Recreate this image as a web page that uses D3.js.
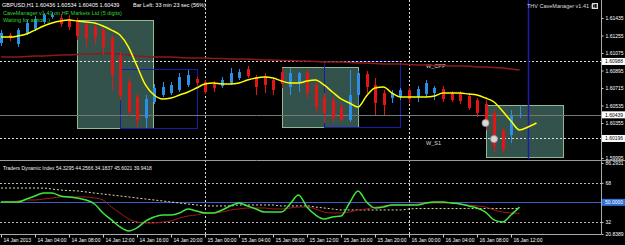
<!DOCTYPE html>
<html>
<head>
<meta charset="utf-8">
<script src="https://cdn.jsdelivr.net/npm/d3@7/dist/d3.min.js"></script>
<style>
  html, body { margin: 0; padding: 0; background: #000; }
  svg { display: block; font-family: 'Liberation Sans', Arial, sans-serif; }
</style>
</head>
<body>
<svg id="chart" width="625" height="245"></svg>
<script>
// GBPUSD H1, 14 Jan 2013 00:00 .. 16 Jan 2013 13:00 (62 bars)
const timeLabels = [
  '14 Jan 2013', '14 Jan 04:00', '14 Jan 08:00', '14 Jan 12:00', '14 Jan 16:00', '14 Jan 20:00',
  '15 Jan 00:00', '15 Jan 04:00', '15 Jan 08:00', '15 Jan 12:00', '15 Jan 16:00', '15 Jan 20:00',
  '16 Jan 00:00', '16 Jan 04:00', '16 Jan 08:00', '16 Jan 12:00',
]

const opens = [
  1.61178, 1.61260, 1.61167, 1.61281, 1.61322, 1.61394, 1.61445, 1.61435, 1.61425, 1.61404,
  1.61373, 1.61342, 1.61311, 1.61229, 1.61044, 1.60777, 1.60622, 1.60406, 1.60571, 1.60643,
  1.60663, 1.60694, 1.60746, 1.60807, 1.60777, 1.60756, 1.60735, 1.60766, 1.60818, 1.60910,
  1.60828, 1.60838, 1.60797, 1.60879, 1.60725, 1.60766, 1.60879, 1.60746, 1.60622, 1.60591,
  1.60519, 1.60386, 1.60643, 1.60859, 1.60746, 1.60663, 1.60612, 1.60622, 1.60694, 1.60622,
  1.60653, 1.60663, 1.60705, 1.60663, 1.60663, 1.60633, 1.60591, 1.60550, 1.60458, 1.60283,
  1.60231, 1.60436,
]
const highs = [
  1.61311, 1.61281, 1.61332, 1.61414, 1.61455, 1.61486, 1.61497, 1.61476, 1.61466, 1.61435,
  1.61394, 1.61373, 1.61332, 1.61260, 1.61085, 1.60818, 1.60663, 1.60643, 1.60756, 1.60777,
  1.60777, 1.60869, 1.60900, 1.60828, 1.60797, 1.60787, 1.60828, 1.60921, 1.60910, 1.60941,
  1.60849, 1.60869, 1.60818, 1.60921, 1.60921, 1.60879, 1.60900, 1.60777, 1.60663, 1.60622,
  1.60561, 1.60900, 1.60890, 1.60890, 1.60818, 1.60694, 1.60694, 1.60715, 1.60715, 1.60735,
  1.60797, 1.60735, 1.60735, 1.60684, 1.60684, 1.60663, 1.60612, 1.60591, 1.60489, 1.60303,
  1.60489, 1.60534,
]
const lows = [
  1.61147, 1.61198, 1.61136, 1.61260, 1.61301, 1.61373, 1.61425, 1.61342, 1.61311, 1.61209,
  1.61136, 1.61157, 1.61054, 1.60694, 1.60591, 1.60427, 1.60314, 1.60303, 1.60550, 1.60622,
  1.60643, 1.60674, 1.60725, 1.60746, 1.60653, 1.60674, 1.60715, 1.60746, 1.60797, 1.60818,
  1.60643, 1.60663, 1.60643, 1.60715, 1.60643, 1.60674, 1.60612, 1.60458, 1.60355, 1.60355,
  1.60365, 1.60365, 1.60519, 1.60663, 1.60437, 1.60437, 1.60561, 1.60591, 1.60561, 1.60571,
  1.60622, 1.60591, 1.60571, 1.60571, 1.60550, 1.60489, 1.60417, 1.60283, 1.60057, 1.60046,
  1.60149, 1.60405,
]
const closes = [
  1.61281, 1.61229, 1.61311, 1.61383, 1.61425, 1.61466, 1.61466, 1.61373, 1.61342, 1.61250,
  1.61229, 1.61239, 1.61136, 1.60849, 1.60633, 1.60468, 1.60386, 1.60602, 1.60715, 1.60725,
  1.60746, 1.60828, 1.60849, 1.60766, 1.60674, 1.60715, 1.60797, 1.60869, 1.60879, 1.60838,
  1.60725, 1.60746, 1.60694, 1.60756, 1.60869, 1.60869, 1.60663, 1.60519, 1.60458, 1.60406,
  1.60386, 1.60643, 1.60869, 1.60725, 1.60561, 1.60540, 1.60663, 1.60694, 1.60602, 1.60705,
  1.60766, 1.60715, 1.60602, 1.60591, 1.60581, 1.60509, 1.60458, 1.60334, 1.60118, 1.60077,
  1.60427, 1.60439,
]

// CaveManager centred band (runs two bars past the last candle)
const tmaLine = [
  1.61239, 1.61239, 1.61250, 1.61270, 1.61311, 1.61353, 1.61383, 1.61404, 1.61414, 1.61404,
  1.61394, 1.61383, 1.61353, 1.61311, 1.61260, 1.61136, 1.60941, 1.60746, 1.60643, 1.60602,
  1.60612, 1.60643, 1.60674, 1.60715, 1.60756, 1.60766, 1.60756, 1.60756, 1.60766, 1.60797,
  1.60818, 1.60828, 1.60818, 1.60787, 1.60766, 1.60766, 1.60787, 1.60797, 1.60746, 1.60674,
  1.60602, 1.60561, 1.60519, 1.60633, 1.60715, 1.60725, 1.60663, 1.60622, 1.60622, 1.60622,
  1.60622, 1.60633, 1.60663, 1.60663, 1.60663, 1.60653, 1.60643, 1.60612, 1.60571, 1.60478,
  1.60375, 1.60283, 1.60314, 1.60355,
]
// slow moving average (dark red)
const maLine = [
  1.61034, 1.61034, 1.61034, 1.61039, 1.61044, 1.61044, 1.61049, 1.61054, 1.61054, 1.61059,
  1.61065, 1.61065, 1.61070, 1.61070, 1.61065, 1.61054, 1.61044, 1.61039, 1.61034, 1.61034,
  1.61034, 1.61029, 1.61023, 1.61023, 1.61023, 1.61018, 1.61018, 1.61013, 1.61013, 1.61013,
  1.61008, 1.61003, 1.61003, 1.60998, 1.60998, 1.60993, 1.60993, 1.60987, 1.60982, 1.60982,
  1.60982, 1.60977, 1.60972, 1.60972, 1.60967, 1.60962, 1.60962, 1.60962, 1.60957, 1.60951,
  1.60951, 1.60946, 1.60946, 1.60941, 1.60941, 1.60941, 1.60931, 1.60931, 1.60926, 1.60921,
  1.60910, 1.60900,
]

// Traders Dynamic Index
const rsiLine = [
  50.3, 50.3, 50.3, 53.1, 55.9, 58.6, 58.6, 55.9, 55.0, 54.0,
  52.2, 48.5, 40.2, 33.8, 27.3, 23.6, 26.4, 32.8, 36.5, 38.4,
  38.4, 40.2, 43.9, 42.0, 40.2, 40.2, 43.0, 46.7, 49.4, 46.7,
  43.9, 41.1, 41.1, 41.1, 48.5, 56.8, 45.7, 38.4, 34.7, 36.5,
  37.4, 49.4, 60.5, 50.3, 44.8, 45.7, 47.6, 47.6, 47.6, 47.6,
  49.4, 50.3, 50.3, 49.4, 48.5, 46.7, 44.8, 41.1, 33.8, 31.9,
  38.4, 45.6,
]
const signalLine = [
  50.3, 50.3, 51.3, 52.2, 52.2, 53.1, 54.0, 55.0, 55.0, 55.0,
  55.0, 54.0, 52.2, 45.7, 40.2, 34.7, 31.9, 31.0, 31.0, 31.9,
  32.8, 35.6, 37.4, 38.4, 40.2, 40.2, 41.1, 43.0, 43.9, 44.8,
  44.8, 44.8, 43.9, 43.9, 44.8, 45.7, 45.7, 43.9, 41.1, 40.2,
  40.2, 41.1, 43.0, 43.9, 45.7, 46.7, 47.6, 47.6, 47.6, 48.5,
  49.4, 49.4, 49.4, 49.4, 48.5, 47.6, 46.7, 45.7, 43.0, 41.1,
  40.2, 39.9,
]
const baseLine = [
  63.2, 63.2, 63.2, 63.2, 63.2, 63.2, 62.3, 61.4, 60.9, 60.5,
  59.6, 58.6, 57.7, 56.8, 55.9, 55.0, 54.0, 53.1, 52.2, 51.3,
  50.3, 49.4, 48.5, 47.6, 46.7, 46.7, 46.7, 46.7, 47.6, 47.6,
  47.6, 47.6, 47.6, 46.7, 46.7, 46.7, 46.7, 45.7, 44.8, 43.9,
  43.0, 43.0, 43.0, 43.0, 43.0, 43.0, 43.0, 43.0, 43.9, 44.3,
  44.3, 44.3, 44.3, 44.3, 44.3, 44.3, 44.3, 44.3, 44.3, 44.3,
  44.3, 44.3,
]
const tdiLevels = [68, 32]
const tdiMid = 50

// [first bar, last bar, top price, bottom price]
const filledBoxes = [
  [9, 18, 1.61414, 1.60303],
  [33, 42, 1.60931, 1.60314],
  [57, 66, 1.60540, 1.60005],
]
const outlineBoxes = [
  [14, 23, 1.60910, 1.60303],
  [38, 47, 1.60993, 1.60314],
]
const pivots = [['W_CPP', 1.60988], ['W_S1', 1.60196]]
const signals = [[57, 1.60355], [58, 1.60190]]
const bid = 1.60439
const markerBar = 62
const daySeparators = [24, 48]

const priceTicks = [1.61435, 1.61255, 1.61075, 1.60895, 1.60715, 1.60535, 1.60355, 1.59995]
const markedPrices = [1.60988, 1.60439, 1.60196]
const tdiTicks = [86.2931, 68, 32, 20.8389]
const tdiTickLabels = ['86.2931', '68', '32', '20.8389']

const plotRight = 601
const mainBottom = 159
const tdiBottom = 234

const x = d3.scaleLinear().domain([0, 70]).range([1, 596])
const y = d3.scaleLinear().domain([1.59995, 1.61435]).range([158, 18])
const yTdi = d3.scaleLinear().domain([20.8389, 86.2931]).range([tdiBottom, 163])
const px = i => Math.round(x(i)) + 0.5

const svg = d3.select('#chart')
svg.append('rect').attr('width', 625).attr('height', 245).attr('fill', '#000')

// zones
svg.append('g').selectAll('rect')
  .data(filledBoxes)
  .enter().append('rect')
  .attr('x', d => px(d[0]))
  .attr('y', d => Math.round(y(d[2])) + 0.5)
  .attr('width', d => Math.round(x(d[1]) - x(d[0])))
  .attr('height', d => Math.round(y(d[3]) - y(d[2])))
  .attr('fill', '#33524c')
  .attr('stroke', '#8fbc8f')

svg.append('g').selectAll('rect')
  .data(outlineBoxes)
  .enter().append('rect')
  .attr('x', d => px(d[0]))
  .attr('y', d => Math.round(y(d[2])) + 0.5)
  .attr('width', d => Math.round(x(d[1]) - x(d[0])))
  .attr('height', d => Math.round(y(d[3]) - y(d[2])))
  .attr('fill', 'none')
  .attr('stroke', '#1a1aa8')

// separators and levels
svg.append('g').selectAll('line')
  .data(daySeparators)
  .enter().append('line')
  .attr('x1', px).attr('x2', px)
  .attr('y1', 0).attr('y2', tdiBottom)
  .attr('stroke', '#ddd')
  .attr('stroke-dasharray', '2,2')

svg.append('g').selectAll('line')
  .data(pivots)
  .enter().append('line')
  .attr('x1', 0).attr('x2', plotRight)
  .attr('y1', d => Math.round(y(d[1])) + 0.5)
  .attr('y2', d => Math.round(y(d[1])) + 0.5)
  .attr('stroke', '#ddd')
  .attr('stroke-dasharray', '2,2')

svg.append('g').selectAll('text')
  .data(pivots)
  .enter().append('text')
  .attr('x', 426)
  .attr('y', d => y(d[1]) + 7)
  .attr('fill', '#ddd')
  .attr('font-size', 5.5)
  .text(d => d[0])

svg.append('line')
  .attr('x1', 0).attr('x2', plotRight)
  .attr('y1', Math.round(y(bid)) + 0.5).attr('y2', Math.round(y(bid)) + 0.5)
  .attr('stroke', '#777')

svg.append('line')
  .attr('x1', px(markerBar)).attr('x2', px(markerBar))
  .attr('y1', 0).attr('y2', mainBottom)
  .attr('stroke', '#1c1ca8')
  .attr('stroke-width', 1.5)

const priceLine = d3.line().x((d, i) => x(i)).y(d => y(d))

svg.append('path')
  .attr('d', priceLine(maLine))
  .attr('fill', 'none')
  .attr('stroke', '#8b1a1a')
  .attr('stroke-width', 1.5)

// candles
const candles = svg.append('g').selectAll('g')
  .data(d3.range(opens.length))
  .enter().append('g')
  .attr('fill', i => closes[i] >= opens[i] ? '#2b8fe6' : '#e21616')
  .attr('stroke', i => closes[i] >= opens[i] ? '#2b8fe6' : '#e21616')

candles.append('line')
  .attr('x1', px).attr('x2', px)
  .attr('y1', i => y(highs[i])).attr('y2', i => y(lows[i]))

candles.append('rect')
  .attr('stroke', 'none')
  .attr('x', i => Math.round(x(i)) - 1)
  .attr('y', i => y(Math.max(opens[i], closes[i])))
  .attr('width', 3)
  .attr('height', i => Math.max(1, Math.abs(y(opens[i]) - y(closes[i]))))

svg.append('path')
  .attr('d', priceLine.curve(d3.curveMonotoneX)(tmaLine))
  .attr('fill', 'none')
  .attr('stroke', '#ffff00')
  .attr('stroke-width', 1.5)

svg.append('g').selectAll('circle')
  .data(signals)
  .enter().append('circle')
  .attr('cx', d => x(d[0]))
  .attr('cy', d => y(d[1]))
  .attr('r', 3.5)
  .attr('fill', '#d8d8d8')
  .attr('stroke', '#999')
  .attr('stroke-width', 0.8)

// Traders Dynamic Index window
svg.append('line')
  .attr('x1', 0).attr('x2', 625).attr('y1', 160.5).attr('y2', 160.5)
  .attr('stroke', '#999')

svg.append('g').selectAll('line')
  .data(tdiLevels)
  .enter().append('line')
  .attr('x1', 0).attr('x2', plotRight)
  .attr('y1', d => Math.round(yTdi(d)) + 0.5).attr('y2', d => Math.round(yTdi(d)) + 0.5)
  .attr('stroke', '#bbb')
  .attr('stroke-dasharray', '2,2')

svg.append('line')
  .attr('x1', 0).attr('x2', plotRight)
  .attr('y1', Math.round(yTdi(tdiMid)) + 0.5).attr('y2', Math.round(yTdi(tdiMid)) + 0.5)
  .attr('stroke', '#4060c8')

const tdiLine = d3.line().x((d, i) => x(i)).y(d => yTdi(d)).curve(d3.curveMonotoneX)

svg.append('path')
  .attr('d', tdiLine(baseLine))
  .attr('fill', 'none')
  .attr('stroke', '#e0dcb0')
  .attr('stroke-dasharray', '2,2')

svg.append('path')
  .attr('d', tdiLine(signalLine))
  .attr('fill', 'none')
  .attr('stroke', '#a01c1c')

svg.append('path')
  .attr('d', tdiLine(rsiLine))
  .attr('fill', 'none')
  .attr('stroke', '#3ee83e')
  .attr('stroke-width', 1.5)

svg.append('text')
  .attr('x', 3).attr('y', 170)
  .attr('fill', '#eee')
  .attr('font-size', 5)
  .text('Traders Dynamic Index 54.3295 44.2566 34.1837 45.6021 39.9418')

// axes
svg.append('line')
  .attr('x1', plotRight + 0.5).attr('x2', plotRight + 0.5)
  .attr('y1', 0).attr('y2', tdiBottom + 0.5)
  .attr('stroke', '#aaa')
svg.append('line')
  .attr('x1', 0).attr('x2', plotRight)
  .attr('y1', tdiBottom + 0.5).attr('y2', tdiBottom + 0.5)
  .attr('stroke', '#aaa')

const styleAxis = g => {
  g.select('.domain').remove()
  g.selectAll('line').attr('stroke', '#ccc')
  g.selectAll('text').attr('fill', '#fff').attr('font-size', 5)
    .attr('font-family', "'Liberation Sans', Arial, sans-serif")
}

svg.append('g')
  .attr('transform', `translate(${ plotRight + 0.5 },0)`)
  .call(d3.axisRight(y).tickValues(priceTicks).tickFormat(d3.format('.5f')).tickSize(2).tickPadding(2))
  .call(styleAxis)

svg.append('g')
  .attr('transform', `translate(${ plotRight + 0.5 },0)`)
  .call(d3.axisRight(yTdi).tickValues(tdiTicks).tickFormat((d, i) => tdiTickLabels[i]).tickSize(2).tickPadding(2))
  .call(styleAxis)

const marks = svg.append('g').selectAll('g')
  .data(markedPrices)
  .enter().append('g')
  .attr('transform', d => `translate(${ plotRight + 1 },${ y(d) })`)
marks.append('rect')
  .attr('x', 0).attr('y', -3.5).attr('width', 24).attr('height', 7)
  .attr('fill', '#fff')
marks.append('text')
  .attr('x', 3).attr('dy', '0.35em')
  .attr('fill', '#000').attr('font-size', 5)
  .text(d => d3.format('.5f')(d))

const midMark = svg.append('g')
  .attr('transform', `translate(${ plotRight + 1 },${ yTdi(tdiMid) })`)
midMark.append('rect')
  .attr('x', 0).attr('y', -3.5).attr('width', 24).attr('height', 7)
  .attr('fill', '#2f6fd6')
midMark.append('text')
  .attr('x', 3).attr('dy', '0.35em')
  .attr('fill', '#fff').attr('font-size', 5)
  .text(d3.format('.4f')(tdiMid))

svg.append('g')
  .attr('transform', `translate(0,${ tdiBottom + 0.5 })`)
  .call(d3.axisBottom(x).tickValues(d3.range(0, 61, 4)).tickFormat((d, i) => timeLabels[i]).tickSize(3).tickPadding(1))
  .call(styleAxis)
  .call(g => g.selectAll('text').attr('text-anchor', 'start').attr('x', 2))

// header texts
const header = [
  ['GBPUSD,H1  1.60436 1.60534 1.60405 1.60439', 2, 7, '#fff'],
  ['CaveManager v1.41 on HF Markets Ltd (5 digits)', 3, 15, '#2fd62f'],
  ['Waiting for action ;)', 3, 22, '#2fd62f'],
  ['Bar Left: 33 min 23 sec (56%)', 133, 7, '#fff'],
  ['THV CaveManager v1.41 (1)', 527, 8, '#ddd'],
]
svg.append('g').selectAll('text')
  .data(header)
  .enter().append('text')
  .attr('x', d => d[1]).attr('y', d => d[2])
  .attr('fill', d => d[3])
  .attr('font-size', 5.5)
  .text(d => d[0])

svg.append('rect')
  .attr('x', 592.5).attr('y', 3.5).attr('width', 5).attr('height', 5)
  .attr('fill', 'none').attr('stroke', '#ddd')
</script>
</body>
</html>
